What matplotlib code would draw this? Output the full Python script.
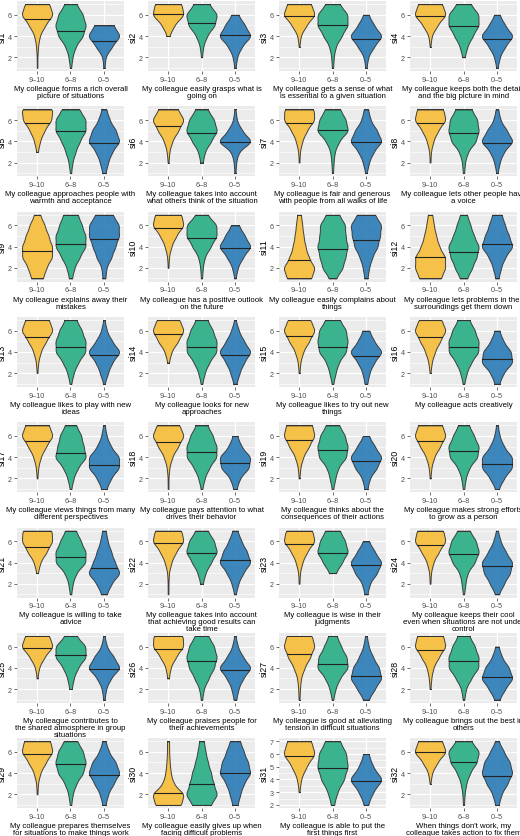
import numpy as np
import matplotlib
matplotlib.use("Agg")
import matplotlib.pyplot as plt
from matplotlib.ticker import MultipleLocator

plt.rcParams['font.family'] = ['Liberation Sans', 'DejaVu Sans']

groups = ["9\u201310", "6\u20138", "0\u20135"]
colors = ["#F6BE3B", "#2BAF86", "#2E7EB8"]
levels = [1, 2, 3, 4, 5, 6, 7]

captions = [
 "My colleague forms a rich overall\npicture of situations",
 "My colleague easily grasps what is\ngoing on",
 "My colleague gets a sense of what\nis essential to a given situation",
 "My colleague keeps both the details\nand the big picture in mind",
 "My colleague approaches people with\nwarmth and acceptance",
 "My colleague takes into account\nwhat others think of the situation",
 "My colleague is fair and generous\nwith people from all walks of life",
 "My colleague lets other people have\na voice",
 "My colleague explains away their\nmistakes",
 "My colleague has a positive outlook\non the future",
 "My colleague easily complains about\nthings",
 "My colleague lets problems in their\nsurroundings get them down",
 "My colleague likes to play with new\nideas",
 "My colleague looks for new\napproaches",
 "My colleague likes to try out new\nthings",
 "My colleague acts creatively",
 "My colleague views things from many\ndifferent perspectives",
 "My colleague pays attention to what\ndrives their behavior",
 "My colleague thinks about the\nconsequences of their actions",
 "My colleague makes strong efforts\nto grow as a person",
 "My colleague is willing to take\nadvice",
 "My colleague takes into account\nthat achieving good results can\ntake time",
 "My colleague is wise in their\njudgments",
 "My colleague keeps their cool\neven when situations are not under\ncontrol",
 "My colleague contributes to\nthe shared atmosphere in group\nsituations",
 "My colleague praises people for\ntheir achievements",
 "My colleague is good at alleviating\ntension in difficult situations",
 "My colleague brings out the best in\nothers",
 "My colleague prepares themselves\nfor situations to make things work",
 "My colleague easily gives up when\nfacing difficult problems",
 "My colleague is able to put the\nfirst things first",
 "When things don't work, my\ncolleague takes action to fix them",
]

# counts of answers at levels 1..7 for groups 9-10, 6-8, 0-5
counts_910 = [
 [1,1,3,8,25,50,40],[0,0,0,3,15,40,35],[0,0,1,4,20,45,35],[0,0,1,4,20,45,35],
 [0,0,2,8,20,40,45],[0,1,3,10,25,40,25],[0,1,2,8,20,40,40],[0,1,2,8,20,40,35],
 [8,12,20,20,15,10,4],[0,1,2,8,20,40,35],[20,25,15,10,7,5,3],[15,20,20,12,8,5,3],
 [0,1,3,10,25,45,35],[0,0,2,8,25,40,30],[0,1,3,10,25,40,30],[0,1,4,12,25,40,30],
 [0,1,3,10,25,45,35],[1,1,3,10,25,40,30],[0,1,3,10,25,40,35],[0,1,3,10,25,40,32],
 [0,0,2,8,25,40,40],[1,1,2,8,20,40,35],[0,1,2,8,20,40,35],[0,1,2,8,22,40,35],
 [0,0,1,5,20,45,35],[0,0,2,6,20,40,40],[1,2,4,12,25,35,30],[0,1,3,8,22,40,35],
 [0,1,2,8,22,40,35],[25,30,10,5,3,2,2],[0,0,1,5,20,45,35],[0,0,1,5,20,45,35],
]
counts_68 = [
 [1,3,8,20,25,20,10],[0,1,3,10,25,30,15],[1,2,5,15,25,25,12],[0,2,6,15,25,25,12],
 [1,3,8,15,25,25,15],[0,2,5,15,25,20,10],[1,2,4,12,30,25,15],[1,2,6,18,22,20,12],
 [2,5,12,20,20,15,10],[1,2,5,15,25,25,10],[4,12,15,18,15,15,8],[4,10,15,18,12,8,4],
 [1,4,10,20,20,15,8],[1,4,10,20,20,15,8],[1,4,8,18,20,18,10],[1,4,10,20,20,15,8],
 [1,4,10,22,18,15,8],[1,4,10,20,20,15,8],[1,4,8,20,22,18,10],[1,3,8,20,22,15,8],
 [1,3,8,22,22,15,8],[0,2,6,15,25,20,10],[0,0,5,15,25,20,12],[1,3,6,18,25,20,10],
 [0,2,5,12,25,25,10],[1,3,10,18,22,18,10],[1,4,10,22,20,12,6],[1,3,10,20,20,15,8],
 [1,3,8,18,22,18,10],[12,20,15,12,8,5,3],[0,2,6,15,20,18,10],[1,2,5,12,25,30,15],
]
counts_05 = [
 [1,2,12,25,15,0,0],[1,3,10,25,15,5,0],[1,3,12,25,12,4,0],[1,4,12,25,12,4,0],
 [2,5,10,20,15,7,3],[1,2,6,30,12,3,1],[1,4,10,22,15,6,3],[1,4,10,25,15,5,2],
 [2,3,10,15,20,20,12],[1,4,12,25,15,6,0],[2,4,8,15,18,20,12],[2,5,10,20,15,10,6],
 [1,6,12,25,12,4,1],[2,6,12,22,12,5,1],[2,5,12,25,12,5,0],[3,8,20,18,8,3,0],
 [3,8,18,18,8,3,1],[2,6,18,20,8,3,0],[2,5,15,22,12,4,0],[2,8,18,18,8,3,1],
 [3,8,18,12,8,4,2],[1,4,10,20,15,8,3],[2,5,15,22,12,4,0],[2,8,15,18,10,4,1],
 [1,3,10,25,15,4,1],[2,5,12,25,12,4,1],[3,10,18,15,8,3,1],[3,10,20,15,6,2,0],
 [2,5,12,20,15,6,2],[3,6,10,18,15,10,6],[0,3,10,25,10,4,0],[2,5,12,18,15,8,2],
]
medians = [
 [5.6,4.5,3.5],[6.05,5.25,4.05],[5.9,5.0,3.7],[5.85,4.95,3.7],
 [5.7,5.0,3.85],[5.4,4.75,3.9],[5.75,5.05,3.9],[5.7,4.8,3.8],
 [3.6,4.2,4.7],[5.75,4.85,3.85],[2.75,3.8,4.65],[3.0,3.5,4.2],
 [5.45,4.45,3.7],[5.65,4.45,3.75],[5.5,4.5,3.6],[5.45,4.45,3.35],
 [5.5,4.4,3.3],[5.4,4.5,3.45],[5.6,4.65,3.65],[5.55,4.55,3.35],
 [5.45,4.55,3.5],[5.8,4.9,4.2],[5.75,4.85,3.75],[5.65,4.8,3.65],
 [5.85,5.2,3.9],[5.8,4.65,3.8],[5.3,4.4,3.25],[5.7,4.6,3.15],
 [5.8,4.9,3.85],[2.15,3.0,4.0],[5.85,4.9,3.85],[6.0,5.0,3.75],
]

W, H = 520, 837
fig = plt.figure(figsize=(W/100, H/100), dpi=100)
BW = 0.5

def violin(ax, x, cnt, med, color):
    cnt = np.asarray(cnt, float)
    lv = np.asarray(levels, float)
    nz = np.nonzero(cnt)[0]
    y = np.linspace(lv[nz[0]], lv[nz[-1]], 200)
    d = (cnt[None, :] * np.exp(-0.5 * ((y[:, None] - lv[None, :]) / BW) ** 2)).sum(1)
    d = d / d.max() * 0.45
    ax.fill_betweenx(y, x - d, x + d, facecolor=color, edgecolor="#333333",
                     linewidth=0.7, alpha=0.92, zorder=3)
    ax.plot([x - d[0], x + d[0]], [y[0], y[0]], color="#333333", lw=0.7, zorder=4)
    ax.plot([x - d[-1], x + d[-1]], [y[-1], y[-1]], color="#333333", lw=0.7, zorder=4)
    dm = np.interp(med, y, d)
    ax.plot([x - dm, x + dm], [med, med], color="#222222", lw=0.8, zorder=4)
    return lv[nz[0]], lv[nz[-1]]

for i in range(32):
    r, c = divmod(i, 4)
    left = (17 + 131 * c) / W
    top = 2 + 105.3 * r
    ax = fig.add_axes([left, 1 - (top + 70) / H, 107 / W, 70 / H])
    ax.set_facecolor("#EBEBEB")
    lo, hi = 7, 1
    for g, cnts in enumerate([counts_910[i], counts_68[i], counts_05[i]]):
        a, b = violin(ax, g + 1, cnts, medians[i][g], colors[g])
        lo, hi = min(lo, a), max(hi, b)
    pad = (hi - lo) * 0.05
    ax.set_ylim(lo - pad, hi + pad)
    ax.set_xlim(0.4, 3.6)
    if hi - lo <= 5:
        ax.yaxis.set_major_locator(MultipleLocator(1))
        ax.yaxis.set_minor_locator(MultipleLocator(0.5))
    else:
        ax.yaxis.set_major_locator(MultipleLocator(2))
        ax.yaxis.set_minor_locator(MultipleLocator(1))
    ax.set_xticks([1, 2, 3])
    ax.set_xticklabels(groups)
    ax.grid(True, which="major", color="white", lw=0.9, zorder=0)
    ax.grid(True, which="minor", axis="y", color="white", lw=0.45, zorder=0)
    ax.set_axisbelow(True)
    for s in ax.spines.values():
        s.set_visible(False)
    ax.tick_params(axis="both", which="major", labelsize=5.2, labelcolor="#4D4D4D",
                   color="#333333", length=2, width=0.5, pad=1.5)
    ax.tick_params(axis="both", which="minor", length=0)
    ax.set_ylabel(f"si{i+1}", fontsize=6.3, labelpad=1)
    ax.set_xlabel(captions[i], fontsize=5.6, labelpad=1.5, linespacing=1.0)

fig.savefig("out.png", dpi=100)
